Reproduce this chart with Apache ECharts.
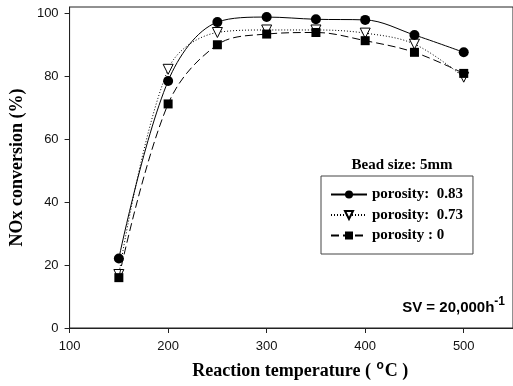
<!DOCTYPE html>
<html>
<head>
<meta charset="utf-8">
<script src="https://cdn.jsdelivr.net/npm/echarts@6/dist/echarts.min.js"></script>
<style>
  html, body { margin: 0; padding: 0; background: #fff; }
  #chart { width: 513px; height: 386px; }
</style>
</head>
<body>
<div id="chart"></div>
<script>
// reaction temperature (°C)
const temperatures = [150, 200, 250, 300, 350, 400, 450, 500];
// NOx conversion (%) for each bead porosity
const porosity083 = [22.1, 78.5, 97.2, 98.8, 98.1, 97.9, 93.1, 87.6];
const porosity073 = [17.0, 82.2, 93.9, 94.7, 94.7, 93.7, 90.2, 79.7];
const porosity0 = [16.0, 71.2, 90.0, 93.4, 93.9, 91.3, 87.6, 80.9];
const seriesNames = ['porosity:  0.83', 'porosity:  0.73', 'porosity : 0'];

const pairs = (ys) => temperatures.map((t, i) => [t, ys[i]]);

const chart = echarts.init(document.getElementById('chart'));

const serif = '"Liberation Serif", "Times New Roman", serif';
const sans = '"Liberation Sans", Arial, sans-serif';

chart.setOption({
  animation: false,
  backgroundColor: '#fff',
  title: {
    text: 'Bead size: 5mm',
    left: 397,
    top: 153,
    textAlign: 'center',
    textStyle: { fontFamily: serif, fontWeight: 'bold', fontSize: 15, color: '#000' },
  },
  legend: {
    orient: 'vertical',
    left: 321,
    top: 176,
    padding: [11, 10, 11, 9],
    itemGap: 5.5,
    itemWidth: 36,
    itemHeight: 10,
    borderColor: '#444',
    borderWidth: 1,
    data: seriesNames,
    textStyle: { fontFamily: serif, fontWeight: 'bold', fontSize: 15, color: '#000', lineHeight: 14 },
  },
  grid: { left: 68, right: -2, top: 7, bottom: 58, show: true, borderColor: '#222', borderWidth: 1 },
  xAxis: {
    type: 'value',
    min: 100,
    max: 550,
    interval: 100,
    name: 'Reaction temperature ( {sup|o}C )',
    nameLocation: 'middle',
    nameGap: 32,
    nameTextStyle: {
      fontFamily: serif, fontWeight: 'bold', fontSize: 18, color: '#000',
      padding: [0, 0, 0, 18],
      rich: { sup: { fontFamily: sans, fontWeight: 'bold', fontSize: 12, padding: [0, 1, 10, 1], color: '#000' } },
    },
    splitLine: { show: false },
    axisLine: { lineStyle: { color: '#222' } },
    axisTick: { length: 5, lineStyle: { color: '#222' } },
    axisLabel: { showMaxLabel: false, fontFamily: sans, fontSize: 13, color: '#111', margin: 12 },
  },
  yAxis: {
    type: 'value',
    min: 0,
    max: 102,
    interval: 20,
    name: 'NOx conversion (%)',
    nameLocation: 'middle',
    nameGap: 42,
    nameTextStyle: { fontFamily: serif, fontWeight: 'bold', fontSize: 18, color: '#000' },
    splitLine: { show: false },
    axisLine: { lineStyle: { color: '#222' } },
    axisTick: { length: 5, lineStyle: { color: '#222' } },
    axisLabel: {
      showMaxLabel: false,
      fontFamily: sans, fontSize: 13, color: '#111', margin: 11,
      formatter: (v) => (v % 20 === 0 ? String(v) : ''),
    },
  },
  graphic: [{
    type: 'text',
    right: 8,
    top: 296,
    style: {
      text: 'SV = 20,000h{sup|-1}',
      font: 'bold 15px ' + sans,
      fill: '#000',
      rich: { sup: { font: 'bold 12px ' + sans, padding: [0, 0, 11, 0], fill: '#000' } },
    },
  }],
  series: [
    {
      name: seriesNames[0],
      type: 'line',
      smooth: 0.35,
      data: pairs(porosity083),
      symbol: 'circle',
      symbolSize: 10,
      itemStyle: { color: '#000' },
      lineStyle: { color: '#000', width: 1, type: 'solid' },
      z: 3,
    },
    {
      name: seriesNames[1],
      type: 'line',
      smooth: 0.35,
      data: pairs(porosity073),
      symbol: 'triangle',
      symbolRotate: 180,
      symbolSize: 10,
      itemStyle: { color: '#fff', borderColor: '#000', borderWidth: 1 },
      lineStyle: { color: '#000', width: 1, type: [1, 2] },
      z: 2,
    },
    {
      name: seriesNames[2],
      type: 'line',
      smooth: 0.35,
      data: pairs(porosity0),
      symbol: 'rect',
      symbolSize: 9,
      itemStyle: { color: '#000' },
      lineStyle: { color: '#000', width: 1, type: [8, 4] },
      z: 4,
    },
  ],
});
</script>
</body>
</html>
